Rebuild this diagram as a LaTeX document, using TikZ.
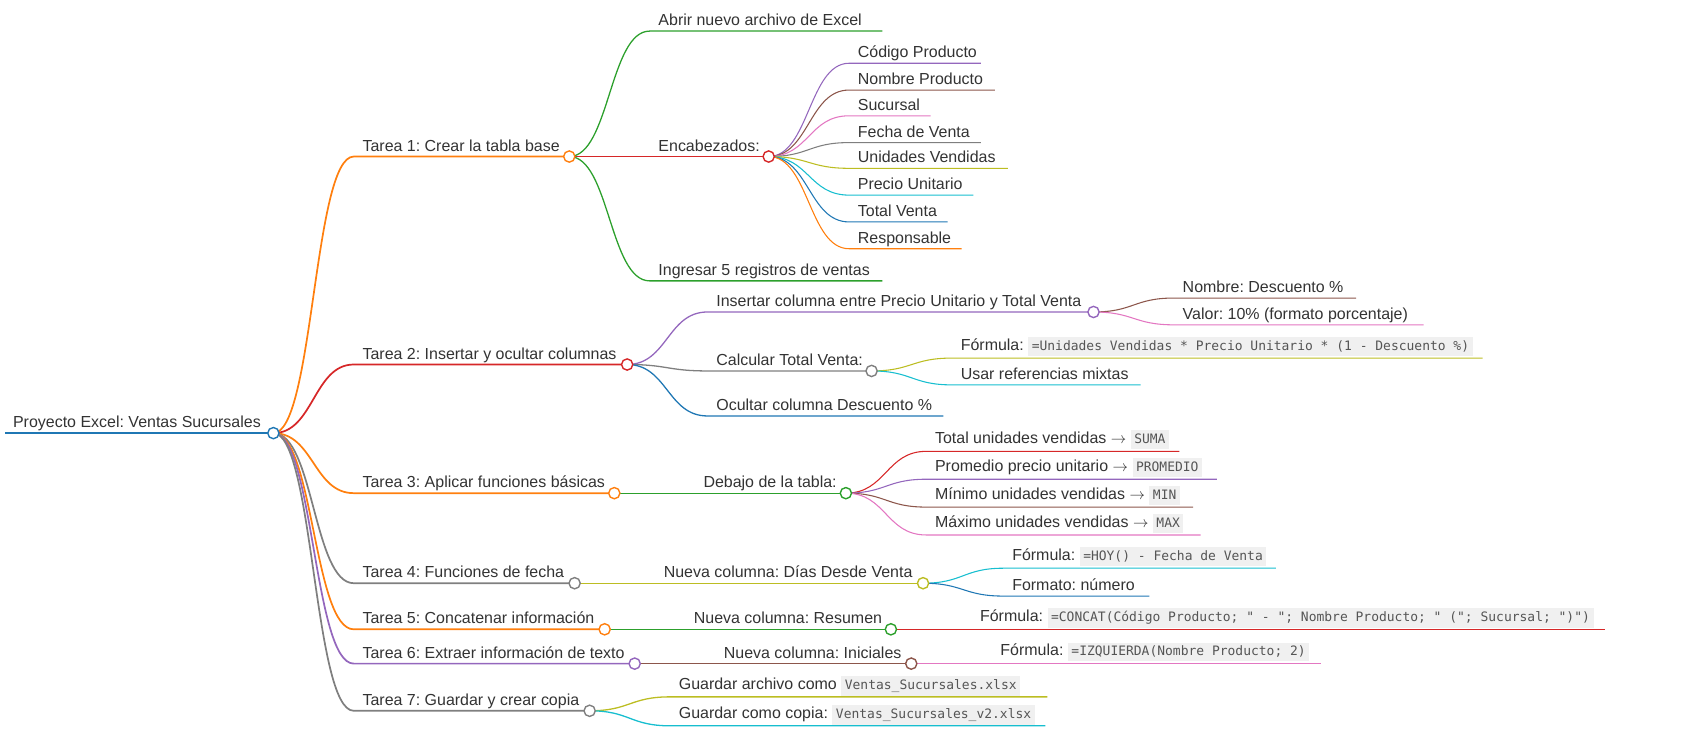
\documentclass[tikz,border=0pt]{standalone}
\usepackage{fontspec}
\setmainfont{Liberation Sans}
\newfontfamily\codefont{DejaVu Sans Mono}
\usepackage{xcolor}
\usetikzlibrary{calc}
\frenchspacing

\definecolor{mmblue}{HTML}{1F77B4}
\definecolor{mmorange}{HTML}{FF7F0E}
\definecolor{mmgreen}{HTML}{2CA02C}
\definecolor{mmred}{HTML}{D62728}
\definecolor{mmpurple}{HTML}{9467BD}
\definecolor{mmbrown}{HTML}{8C564B}
\definecolor{mmpink}{HTML}{E377C2}
\definecolor{mmgray}{HTML}{7F7F7F}
\definecolor{mmolive}{HTML}{BCBD22}
\definecolor{mmcyan}{HTML}{17BECF}
\definecolor{codebg}{HTML}{F0F0F0}
\definecolor{codetxt}{HTML}{555555}
\definecolor{txt}{HTML}{333333}

\tikzset{
  label text/.style={font=\fontsize{14.9}{17}\selectfont, text=txt, inner sep=0pt},
  lifted/.style={yshift=2.2pt},
  dot/.style={circle, draw=#1, fill=white, line width=1.3pt, minimum size=10.5pt, inner sep=0pt}
}

% inline code
\newcommand{\code}[1]{{\setlength{\fboxsep}{3.3pt}\colorbox{codebg}{\color{codetxt}\codefont\fontsize{12.1}{14}\selectfont\vphantom{(}#1}}}
\newcommand{\toarrow}{\ensuremath{\rightarrow}}

% [node options] name, parent, colour, line width, x start, x end, y, text
\newcommand{\branch}[9][]{%
  \coordinate (#2-s) at (#6,#8);
  \coordinate (#2) at (#7,#8);
  \draw[#4, line width=#5] let \p1=(#3), \p2=(#2-s) in
    (\p1) .. controls ({(\x1+\x2)/2},\y1) and ({(\x1+\x2)/2},\y2) .. (\p2) -- (#2);
  \node[label text, anchor=base west, #1] (#2-t) at ([xshift=8pt, yshift=5pt]#2-s) {#9};
}

\begin{document}
\begin{tikzpicture}[x=1pt, y=-1pt]
\useasboundingbox (0,0) rectangle (1568,683.7);

% root
\coordinate (root-s) at (5,404);
\coordinate (root) at (255,404);
\draw[mmblue, line width=2.3pt] (root-s) -- (root);
\node[label text, anchor=base west] (root-t) at ([xshift=7pt, yshift=5pt]root-s) {Proyecto Excel: Ventas Sucursales};

% tareas
\branch{t1}{root}{mmorange}{1.6pt}{330}{531}{146}{Tarea 1: Crear la tabla base}
\branch{t2}{root}{mmred}{1.6pt}{330}{585}{340}{Tarea 2: Insertar y ocultar columnas}
\branch{t3}{root}{mmorange}{1.6pt}{330}{573}{460}{Tarea 3: Aplicar funciones básicas}
\branch{t4}{root}{mmgray}{1.6pt}{330}{536}{544}{Tarea 4: Funciones de fecha}
\branch{t5}{root}{mmorange}{1.6pt}{330}{564}{587}{Tarea 5: Concatenar información}
\branch{t6}{root}{mmpurple}{1.6pt}{330}{592}{619}{Tarea 6: Extraer información de texto}
\branch{t7}{root}{mmgray}{1.6pt}{330}{550}{663}{Tarea 7: Guardar y crear copia}

% tarea 1
\branch{abrir}{t1}{mmgreen}{1.2pt}{606}{823}{29}{Abrir nuevo archivo de Excel}
\branch{encab}{t1}{mmred}{1.2pt}{606}{717}{146}{Encabezados:}
\branch{ingresar}{t1}{mmgreen}{1.2pt}{606}{823}{262}{Ingresar 5 registros de ventas}
\foreach \txt/\col/\xe/\yy [count=\i] in {Código Producto/mmpurple/915/59, Nombre Producto/mmbrown/928/84,
    Sucursal/mmpink/868/108, Fecha de Venta/mmgray/915/133, Unidades Vendidas/mmolive/940/157,
    Precio Unitario/mmcyan/908/182, Total Venta/mmblue/884/207, Responsable/mmorange/897/232} {
  \branch{h\i}{encab}{\col}{1pt}{792}{\xe}{\yy}{\txt}
}

% tarea 2
\branch{insertar}{t2}{mmpurple}{1.2pt}{660}{1020}{291}{Insertar columna entre Precio Unitario y Total Venta}
\branch{nombre}{insertar}{mmbrown}{1pt}{1095}{1265}{278}{Nombre: Descuento \%}
\branch{valor}{insertar}{mmpink}{1pt}{1095}{1328}{303}{Valor: 10\% (formato porcentaje)}
\branch{calcular}{t2}{mmgray}{1.2pt}{660}{813}{346}{Calcular Total Venta:}
\branch[lifted]{formula2}{calcular}{mmolive}{1pt}{888}{1383}{334}{Fórmula: \code{=Unidades Vendidas * Precio Unitario * (1 - Descuento \%)}}
\branch{usar}{calcular}{mmcyan}{1pt}{888}{1064}{359}{Usar referencias mixtas}
\branch{ocultar}{t2}{mmblue}{1.2pt}{660}{880}{388}{Ocultar columna Descuento \%}

% tarea 3
\branch{debajo}{t3}{mmgreen}{1.2pt}{648}{789}{460}{Debajo de la tabla:}
\branch[lifted]{suma}{debajo}{mmred}{1pt}{864}{1100}{421}{Total unidades vendidas \toarrow{} \code{SUMA}}
\branch[lifted]{promedio}{debajo}{mmpurple}{1pt}{864}{1135}{447}{Promedio precio unitario \toarrow{} \code{PROMEDIO}}
\branch[lifted]{minimo}{debajo}{mmbrown}{1pt}{864}{1113}{473}{Mínimo unidades vendidas \toarrow{} \code{MIN}}
\branch[lifted]{maximo}{debajo}{mmpink}{1pt}{864}{1120}{499}{Máximo unidades vendidas \toarrow{} \code{MAX}}

% tarea 4
\branch{dias}{t4}{mmolive}{1.2pt}{611}{861}{544}{Nueva columna: Días Desde Venta}
\branch[lifted]{formula4}{dias}{mmcyan}{1pt}{936}{1190}{530}{Fórmula: \code{=HOY() - Fecha de Venta}}
\branch{formato}{dias}{mmblue}{1pt}{936}{1072}{556}{Formato: número}

% tarea 5
\branch{resumen}{t5}{mmgreen}{1.2pt}{639}{831}{587}{Nueva columna: Resumen}
\branch[lifted]{formula5}{resumen}{mmred}{1pt}{906}{1497}{587}{Fórmula: \code{=CONCAT(Código Producto; " - "; Nombre Producto; " ("; Sucursal; ")")}}

% tarea 6
\branch{iniciales}{t6}{mmbrown}{1.2pt}{667}{850}{619}{Nueva columna: Iniciales}
\branch[lifted]{formula6}{iniciales}{mmpink}{1pt}{925}{1232}{619}{Fórmula: \code{=IZQUIERDA(Nombre Producto; 2)}}

% tarea 7
\branch[lifted]{guardar}{t7}{mmolive}{1.2pt}{625}{977}{650}{Guardar archivo como \code{Ventas\_Sucursales.xlsx}}
\branch[lifted]{copia}{t7}{mmcyan}{1.2pt}{625}{975}{677}{Guardar como copia: \code{Ventas\_Sucursales\_v2.xlsx}}

% circles on top
\foreach \n/\col in {root/mmblue, t1/mmorange, t2/mmred, t3/mmorange, t4/mmgray, t5/mmorange,
    t6/mmpurple, t7/mmgray, encab/mmred, insertar/mmpurple, calcular/mmgray, debajo/mmgreen,
    dias/mmolive, resumen/mmgreen, iniciales/mmbrown}
  \node[dot=\col] at (\n) {};
\end{tikzpicture}
\end{document}
